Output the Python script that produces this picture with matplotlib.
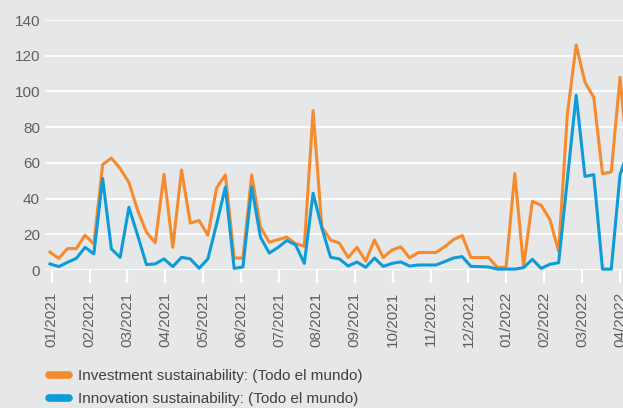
import matplotlib
matplotlib.use('Agg')
import matplotlib.pyplot as plt
from matplotlib.lines import Line2D
import numpy as np

# weekly search interest
investment = [10, 6.5, 12, 12, 19.5, 14.5, 59, 62.7, 56.8, 49,
              33.3, 21.2, 15.2, 53.6, 12.7, 56, 26.3, 27.7, 19.5, 46,
              53.3, 6.7, 6.7, 53.3, 24, 15.5, 17, 18.4, 14.8, 13.3,
              89.2, 23.9, 16.8, 15, 7, 12.7, 5, 16.8, 7, 11.2,
              13, 6.8, 9.8, 9.8, 9.8, 13, 17, 19.3, 7, 7,
              7, 1.5, 1.5, 54, 2, 38.4, 36.3, 28.3, 10.5, 87.6,
              126, 105.2, 96.7, 53.9, 54.9, 107.9, 55]
innovation = [3.4, 1.9, 4.3, 6.5, 12.7, 9, 51.3, 11.8, 7.1, 35.1,
              19.3, 3, 3.4, 6.2, 1.9, 7.1, 6.2, 1, 6.2, 25.8,
              46.4, 0.9, 1.7, 46.4, 18.4, 9.5, 12.6, 16.5, 14.1, 3.7,
              43, 23.5, 7.1, 6.2, 2.2, 4.5, 1.5, 6.7, 2, 3.7,
              4.5, 2.2, 2.8, 2.8, 2.8, 4.7, 6.7, 7.5, 2, 1.9,
              1.7, 0.5, 0.5, 0.5, 1.3, 6, 0.9, 3.2, 4.1, 51,
              97.9, 52.4, 53.4, 0.5, 0.5, 53.3, 68]
month_labels = ['01/2021', '02/2021', '03/2021', '04/2021', '05/2021', '06/2021',
                '07/2021', '08/2021', '09/2021', '10/2021', '11/2021', '12/2021',
                '01/2022', '02/2022', '03/2022', '04/2022']
series_names = ['Investment sustainability: (Todo el mundo)',
                'Innovation sustainability: (Todo el mundo)']

ORANGE = '#F68B2E'
BLUE = '#0E9CD9'
BG = '#E6E7E8'
TXT = '#5E5F61'

plt.rcParams['font.family'] = ['Liberation Sans', 'DejaVu Sans']

W, H = 623, 408
PT = 72 / 100  # points per pixel at 100 dpi
fig = plt.figure(figsize=(W / 100, H / 100), dpi=100, facecolor=BG)

# axes runs past the right edge like in the cropped original
left_px, right_px, top_px, bottom_px = 45, 628.8, 20, 270
ax = fig.add_axes([left_px / W, 1 - bottom_px / H,
                   (right_px - left_px) / W, (bottom_px - top_px) / H])
ax.set_facecolor(BG)

x = np.arange(len(investment))
ax.plot(x, investment, color=ORANGE, lw=2.2, clip_on=False, zorder=3)
ax.plot(x, innovation, color=BLUE, lw=2.2, clip_on=False, zorder=4)

ax.set_xlim(-0.57, 66.0)
ax.set_ylim(0, 140)
ax.set_yticks(range(0, 141, 20))
ax.grid(axis='y', color='white', lw=1.3)
ax.set_axisbelow(True)

# month ticks, evenly spaced along the weekly index
ax.set_xticks(0.19 + np.arange(len(month_labels)) * 4.32)
ax.set_xticklabels(month_labels, rotation=90)

for s in ax.spines.values():
    s.set_visible(False)
ax.tick_params(axis='x', colors='white', length=13 * PT, width=1.5, pad=9 * PT,
               labelcolor=TXT, labelsize=11)
ax.tick_params(axis='y', length=0, pad=5 * PT, labelcolor=TXT, labelsize=11)

handles = [Line2D([], [], color=ORANGE, lw=5.5, solid_capstyle='round'),
           Line2D([], [], color=BLUE, lw=5.5, solid_capstyle='round')]
fig.legend(handles, series_names, loc='upper left',
           bbox_to_anchor=(49 / W, 1 - 369 / H), frameon=False,
           fontsize=11, handlelength=1.3, handletextpad=0.6,
           labelspacing=0.62, borderpad=0, borderaxespad=0,
           labelcolor='#414042')

fig.savefig('out.png', dpi=100, facecolor=BG)
